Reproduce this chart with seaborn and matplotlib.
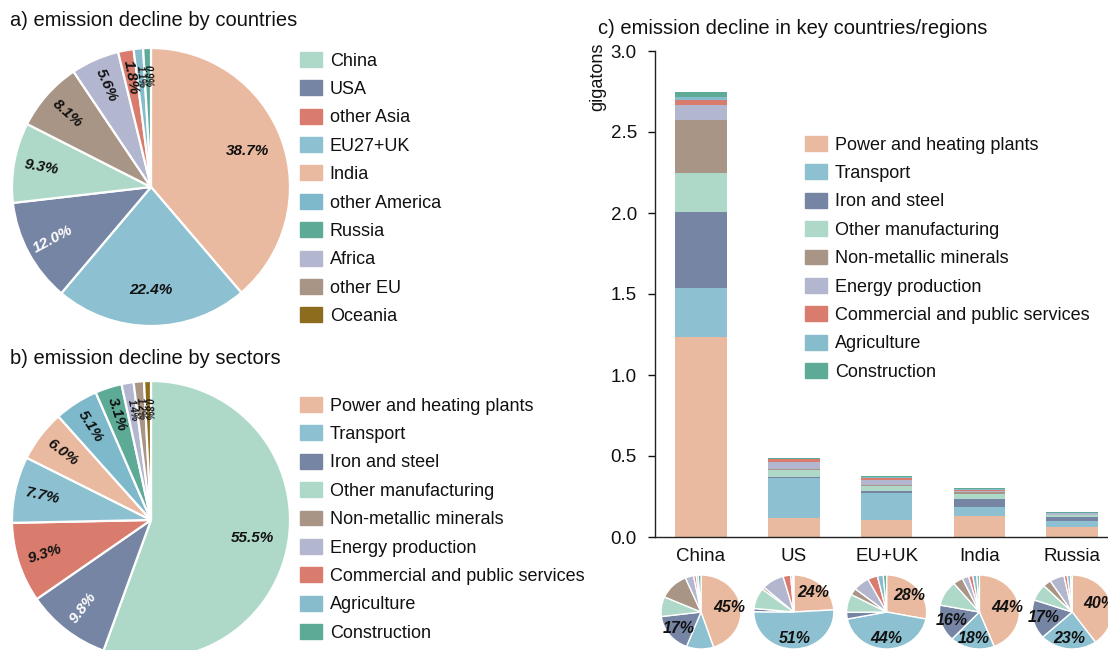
import numpy as np
import pandas as pd
import matplotlib
matplotlib.use("Agg")
import matplotlib.pyplot as plt
from matplotlib.patches import Patch
import seaborn as sns

# ---------------- data ----------------
country_names = ["China", "USA", "other Asia", "EU27+UK", "India",
                 "other America", "Russia", "Africa", "other EU", "Oceania"]
country_colors = ["#AED8C8", "#7785A5", "#D97C6E", "#8DC0D0", "#E9B9A0",
                  "#7DB9CA", "#5DAA97", "#B3B6CF", "#A99585", "#8E6C1E"]

sector_names = ["Power and heating plants", "Transport", "Iron and steel",
                "Other manufacturing", "Non-metallic minerals", "Energy production",
                "Commercial and public services", "Agriculture", "Construction"]
sector_colors = ["#E9B9A0", "#8DC0D0", "#7785A5", "#AED8C8", "#A99585",
                 "#B3B6CF", "#D97C6E", "#86BCCB", "#5DAA97"]

# shares (%) shown in the two large pies
pie_a_share = [38.7, 22.4, 12.0, 9.3, 8.1, 5.6, 1.8, 1.1, 0.9]
pie_a_colors = sector_colors
pie_b_share = [55.5, 9.8, 9.3, 7.7, 6.0, 5.1, 3.1, 1.4, 1.2, 0.8]
pie_b_colors = country_colors

# emission decline by sector for key regions (gigatons)
regions = ["China", "US", "EU+UK", "India", "Russia"]
power = [1.235, 0.117, 0.106, 0.132, 0.061]
transport = [0.302, 0.248, 0.166, 0.054, 0.035]
iron_steel = [0.471, 0.007, 0.011, 0.048, 0.026]
other_manuf = [0.237, 0.044, 0.030, 0.033, 0.011]
non_metallic = [0.329, 0.005, 0.011, 0.012, 0.005]
energy_prod = [0.093, 0.044, 0.025, 0.008, 0.009]
commercial = [0.029, 0.015, 0.015, 0.005, 0.002]
agriculture = [0.022, 0.004, 0.009, 0.005, 0.002]
construction = [0.031, 0.002, 0.005, 0.003, 0.001]

# ---------------- style ----------------
sns.set_theme(style="ticks")
plt.rcParams["font.family"] = ["Liberation Sans", "DejaVu Sans"]
INK = "#111111"
plt.rcParams["text.color"] = INK
plt.rcParams["axes.labelcolor"] = INK
plt.rcParams["axes.edgecolor"] = "#222222"
plt.rcParams["xtick.color"] = INK
plt.rcParams["ytick.color"] = INK

W, H = 1108, 650
fig = plt.figure(figsize=(W / 100, H / 100), dpi=100)


def box(x0, y0, w, h):
    """pixel box (top-left origin) -> figure-fraction rect"""
    return [x0 / W, 1 - (y0 + h) / H, w / W, h / H]


def fpos(x, y):
    return (x / W, 1 - y / H)


TITLE_FS = 14.5
LEG_FS = 13


def rotation_for(angle):
    a = (angle + 180) % 360 - 180
    if -90 <= a <= 90:
        return a
    return a - 180 if a > 0 else a + 180


def big_pie(ax, shares, colors):
    wedges, _ = ax.pie(shares, colors=colors, startangle=90, counterclock=False,
                       wedgeprops=dict(edgecolor="white", linewidth=1.6))
    for w, s, c in zip(wedges, shares, colors):
        ang = (w.theta1 + w.theta2) / 2
        rad = np.deg2rad(ang)
        if s >= 20:
            r, rot = 0.74, 0
        else:
            r, rot = 0.8, rotation_for(ang)
        fs = 11 if s >= 1.5 else 7
        tc = "white" if c == "#7785A5" else INK
        ax.text(r * np.cos(rad), r * np.sin(rad), f"{s:.1f}%", ha="center", va="center",
                rotation=rot, rotation_mode="anchor", fontsize=fs,
                fontweight="bold", fontstyle="italic", color=tc)
    ax.set_xlim(-1, 1)
    ax.set_ylim(-1, 1)
    ax.set_aspect("equal")


R = 139
ax_a = fig.add_axes(box(151 - R, 187 - R, 2 * R, 2 * R))
big_pie(ax_a, pie_a_share, pie_a_colors)
ax_b = fig.add_axes(box(151 - R, 520 - R, 2 * R, 2 * R))
big_pie(ax_b, pie_b_share, pie_b_colors)

fig.text(*fpos(10, 21), "a) emission decline by countries", fontsize=TITLE_FS,
         ha="left", va="center")
fig.text(*fpos(10, 358), "b) emission decline by sectors", fontsize=TITLE_FS,
         ha="left", va="center")
fig.text(*fpos(598, 28), "c) emission decline in key countries/regions",
         fontsize=TITLE_FS, ha="left", va="center")

leg_kw = dict(loc="upper left", frameon=False, fontsize=LEG_FS, handlelength=1.2,
              handleheight=0.9, handletextpad=0.45, labelspacing=0.59,
              borderpad=0, borderaxespad=0)

fig.legend([Patch(color=c) for c in country_colors], country_names,
           bbox_to_anchor=fpos(300, 52), **leg_kw)
fig.legend([Patch(color=c) for c in sector_colors], sector_names,
           bbox_to_anchor=fpos(300, 397), **leg_kw)

# ---------------- stacked bars ----------------
layers = [power, transport, iron_steel, other_manuf, non_metallic, energy_prod,
          commercial, agriculture, construction]
vals = np.array(layers)
cum = vals.cumsum(axis=0)
totals = cum[-1]

ax_c = fig.add_axes(box(655, 51, W - 655, 486))
# draw cumulative tops from the highest layer down so each lower layer covers the rest
for k in range(len(layers) - 1, -1, -1):
    df = pd.DataFrame({"region": regions, "top": cum[k]})
    sns.barplot(data=df, x="region", y="top", order=regions, color=sector_colors[k],
                saturation=1, width=0.555, linewidth=0, errorbar=None, ax=ax_c)

ax_c.set_xlim(-0.496, 4.386)
ax_c.set_ylim(0, 3.0)
ax_c.set_yticks(np.arange(0, 3.01, 0.5))
ax_c.set_yticklabels([f"{v:.1f}" for v in np.arange(0, 3.01, 0.5)])
ax_c.set_xlabel("")
ax_c.set_ylabel("gigatons", fontsize=13)
ax_c.yaxis.set_label_coords(-0.108, 0.946)
ax_c.tick_params(axis="y", length=5, width=1, labelsize=13.5, pad=8)
ax_c.tick_params(axis="x", length=0, labelsize=13.5, pad=8)
sns.despine(ax=ax_c)
for sp in ("left", "bottom"):
    ax_c.spines[sp].set_linewidth(1.0)

fig.legend([Patch(color=c) for c in sector_colors], sector_names,
           bbox_to_anchor=fpos(805, 136), **leg_kw)

# ---------------- small pies under each bar ----------------
fig.canvas.draw()
pw, ph = 80, 74
for i, reg in enumerate(regions):
    xc = ax_c.transData.transform((i, 0))[0]
    yc = 612
    sub = fig.add_axes(box(xc - pw / 2, yc - ph / 2, pw, ph))
    shares = vals[:, i] / totals[i] * 100
    wedges, _ = sub.pie(shares, colors=sector_colors, startangle=90, counterclock=False,
                        wedgeprops=dict(edgecolor="white", linewidth=1.0))
    for w, s in zip(wedges, shares):
        if s >= 15:
            ang = np.deg2rad((w.theta1 + w.theta2) / 2)
            r = 0.72
            sub.text(r * np.cos(ang), r * np.sin(ang), f"{s:.0f}%", ha="center",
                     va="center", fontsize=11.5, fontweight="bold", fontstyle="italic",
                     color=INK)
    sub.set_xlim(-1, 1)
    sub.set_ylim(-1, 1)
    sub.set_aspect("auto")

fig.savefig("out.png", dpi=100)
